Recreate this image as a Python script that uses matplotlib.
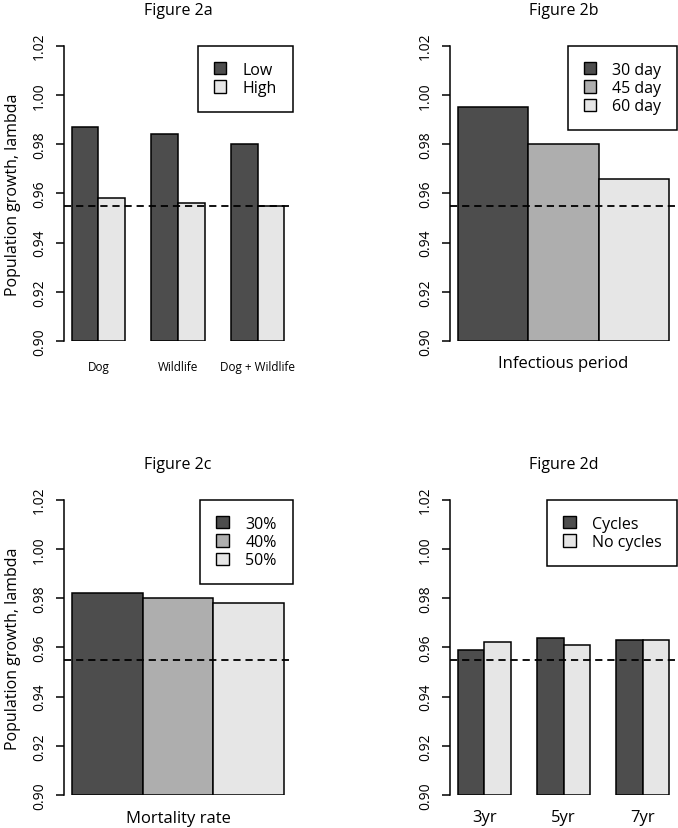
import numpy as np
import matplotlib
matplotlib.use("Agg")
import matplotlib.pyplot as plt
from matplotlib.patches import Patch

plt.rcParams['font.family'] = ['Open Sans', 'DejaVu Sans']

# ---- data ----
a_groups = ["Dog", "Wildlife", "Dog + Wildlife"]
a_series = ["Low", "High"]
a_low = [0.987, 0.984, 0.980]
a_high = [0.958, 0.956, 0.955]

b_labels = ["30 day", "45 day", "60 day"]
b_vals = [0.995, 0.980, 0.966]
b_xlabel = "Infectious period"

c_labels = ["30%", "40%", "50%"]
c_vals = [0.982, 0.980, 0.978]
c_xlabel = "Mortality rate"

d_groups = ["3yr", "5yr", "7yr"]
d_series = ["Cycles", "No cycles"]
d_cycles = [0.959, 0.964, 0.963]
d_nocycles = [0.962, 0.961, 0.963]

threshold = 0.955
yticks = [0.90, 0.92, 0.94, 0.96, 0.98, 1.00, 1.02]
titles = ["Figure 2a", "Figure 2b", "Figure 2c", "Figure 2d"]
ylabel = "Population growth, lambda"

# ---- style ----
DARK, MID, LIGHT = "#4D4D4D", "#AEAEAE", "#E6E6E6"
BASE = 0.90
W, H = 678, 829
fig = plt.figure(figsize=(W / 100, H / 100), dpi=100)

def rect(l, r, t, b):
    return [l / W, 1 - b / H, (r - l) / W, (b - t) / H]

axa = fig.add_axes(rect(63.5, 292.5, 46.7, 342))
axb = fig.add_axes(rect(449.6, 677.4, 46.7, 342))
axc = fig.add_axes(rect(63.5, 292.5, 500.7, 796))
axd = fig.add_axes(rect(449.6, 677.4, 500.7, 796))

def style(ax, title, with_ylabel):
    ax.set_ylim(BASE, 1.02)
    ax.set_yticks(yticks)
    ax.set_yticklabels([f"{v:.2f}" for v in yticks], rotation=90, va="center",
                       fontsize=10)
    for s in ["top", "right", "bottom"]:
        ax.spines[s].set_visible(False)
    ax.spines["left"].set_linewidth(1.1)
    ax.spines["left"].set_bounds(BASE, 1.02)
    ax.tick_params(axis="y", length=6, width=1.1, pad=6)
    ax.tick_params(axis="x", length=0)
    ax.set_title(title, fontsize=11.5, pad=23)
    if with_ylabel:
        ax.set_ylabel(ylabel, fontsize=11.5, labelpad=8)
    ax.axhline(threshold, color="black", lw=1.3, ls=(0, (4, 2.7)), zorder=5)

def legend(ax, labels, colors):
    handles = [Patch(facecolor=c, edgecolor="black", lw=1.0) for c in colors]
    lg = ax.legend(handles, labels, loc="upper right", borderaxespad=0,
                   fancybox=False, framealpha=1, edgecolor="black",
                   fontsize=11.5, handlelength=0.8, handleheight=0.8,
                   handletextpad=1.0, labelspacing=0.15, borderpad=1.0)
    lg.get_frame().set_linewidth(1.1)

# panel a
ng = len(a_groups)
lefts = 1 + 3 * np.arange(ng)
axa.bar(lefts, np.array(a_low) - BASE, width=1, bottom=BASE, align="edge",
        color=DARK, edgecolor="black", lw=1.1)
axa.bar(lefts + 1, np.array(a_high) - BASE, width=1, bottom=BASE, align="edge",
        color=LIGHT, edgecolor="black", lw=1.1)
axa.set_xlim(0.68, 9.32)
axa.set_xticks(lefts + 1)
axa.set_xticklabels(a_groups, fontsize=8.5)
axa.tick_params(axis="x", pad=14)
style(axa, titles[0], True)
legend(axa, a_series, [DARK, LIGHT])

# panel b
xb = np.arange(len(b_vals))
axb.bar(xb, np.array(b_vals) - BASE, width=1, bottom=BASE, align="edge",
        color=[DARK, MID, LIGHT], edgecolor="black", lw=1.1)
axb.set_xlim(-0.12, 3.12)
axb.set_xticks([])
axb.set_xlabel(b_xlabel, fontsize=12, labelpad=10)
style(axb, titles[1], False)
legend(axb, b_labels, [DARK, MID, LIGHT])

# panel c
xc = np.arange(len(c_vals))
axc.bar(xc, np.array(c_vals) - BASE, width=1, bottom=BASE, align="edge",
        color=[DARK, MID, LIGHT], edgecolor="black", lw=1.1)
axc.set_xlim(-0.12, 3.12)
axc.set_xticks([])
axc.set_xlabel(c_xlabel, fontsize=12, labelpad=11)
style(axc, titles[2], True)
legend(axc, c_labels, [DARK, MID, LIGHT])

# panel d
nd = len(d_groups)
ld = 1 + 3 * np.arange(nd)
axd.bar(ld, np.array(d_cycles) - BASE, width=1, bottom=BASE, align="edge",
        color=DARK, edgecolor="black", lw=1.1)
axd.bar(ld + 1, np.array(d_nocycles) - BASE, width=1, bottom=BASE, align="edge",
        color=LIGHT, edgecolor="black", lw=1.1)
axd.set_xlim(0.68, 9.32)
axd.set_xticks(ld + 1)
axd.set_xticklabels(d_groups, fontsize=12)
axd.tick_params(axis="x", pad=10)
style(axd, titles[3], False)
legend(axd, d_series, [DARK, LIGHT])

fig.savefig("out.png", dpi=100)
